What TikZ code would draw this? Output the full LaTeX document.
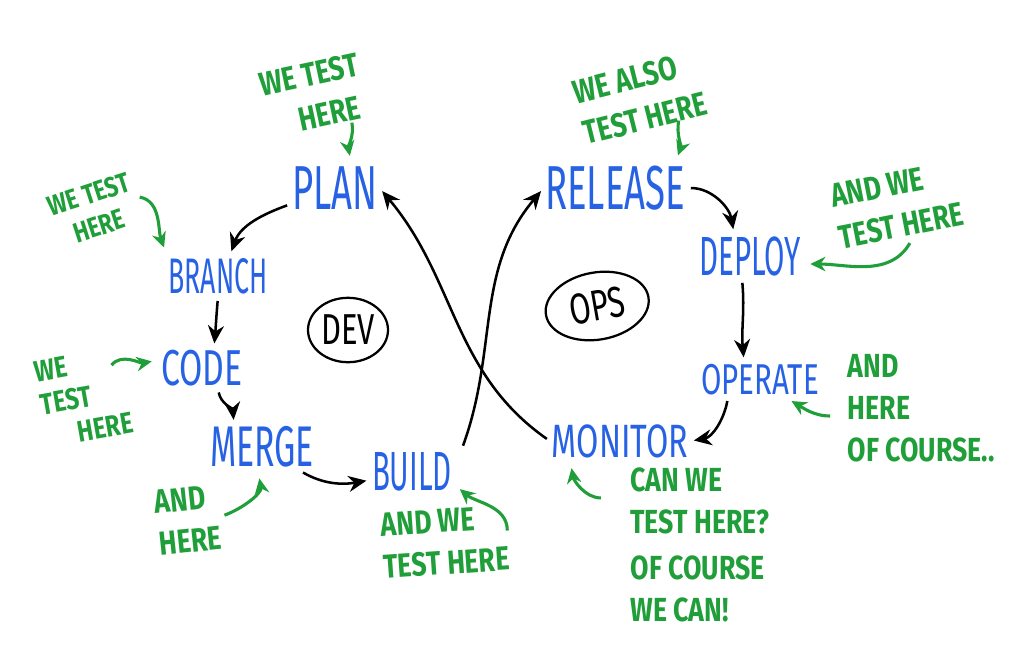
\documentclass[tikz,border=0pt]{standalone}
\usepackage{fontspec}
\setmainfont{Fira Sans}
\usetikzlibrary{positioning,shapes.geometric,arrows.meta}
\definecolor{stageblue}{RGB}{40,98,228}
\definecolor{notegreen}{RGB}{32,158,58}

\begin{document}
\begin{tikzpicture}[
        stage/.style={text=stageblue,inner sep=1pt,yscale=1.7,transform shape,font=\fontsize{#1}{#1}\selectfont},
        stage/.default=24,
        note/.style={text=notegreen,inner sep=1pt,align=left,yscale=1.25,transform shape,font=\bfseries\fontsize{19}{24}\selectfont},
        side/.style={draw,ellipse,line width=1.6pt,inner sep=0pt,yscale=1.4,transform shape,font=\fontsize{22}{22}\selectfont},
        flow/.style={line width=1.8pt,-{Stealth[length=4.5mm,width=4mm]},shorten <=1mm,shorten >=1mm},
        hint/.style={notegreen,line width=2.2pt,-{Stealth[length=3.8mm,width=3.6mm]},shorten <=1mm,shorten >=2mm}]
        \useasboundingbox (0,0) rectangle (25.6,-16.325);

        % dev side
        \node[stage=26] (plan) at (8.38,-4.70) {PLAN};
        \node[stage=19,yscale=1.1] (branch) at (5.45,-6.90) {BRANCH};
        \node[stage=24,yscale=0.88] (code) at (5.05,-9.20) {CODE};
        \node[stage=24] (merge) at (6.55,-11.18) {MERGE};
        \node[stage=21,yscale=1.1] (build) at (10.30,-11.80) {BUILD};
        \node[side,minimum width=2cm,minimum height=1.15cm] (dev) at (8.7,-8.25) {DEV};

        % ops side
        \node[stage=26] (release) at (15.38,-4.70) {RELEASE};
        \node[stage=21,yscale=1.1] (deploy) at (18.75,-6.40) {DEPLOY};
        \node[stage=21,yscale=0.86] (operate) at (19.00,-9.48) {OPERATE};
        \node[stage=23,yscale=0.85] (monitor) at (15.50,-11.03) {MONITOR};
        \node[rotate=10,side,minimum width=2.6cm,minimum height=1.2cm] (ops) at (14.93,-7.65) {OPS};

        % notes
        \node[rotate=12,note,align=center] (n1) at (7.83,-2.38) {WE TEST\\\hspace*{6mm}HERE};
        \node[rotate=18,note,font=\bfseries\fontsize{16}{19}\selectfont] (n2) at (2.35,-5.25) {WE TEST\\\hspace*{4mm}HERE};
        \node[rotate=10,note,font=\bfseries\fontsize{17}{19}\selectfont] (n3) at (2.10,-9.93) {WE\\TEST\\\hspace*{8mm}HERE};
        \node[rotate=6,note] (n4) at (4.70,-13.0) {AND\\HERE};
        \node[rotate=4,note] (n5) at (11.13,-13.55) {AND WE\\TEST HERE};
        \node[rotate=14,note] (n6) at (16.0,-2.45) {WE ALSO\\TEST HERE};
        \node[rotate=11,note] (n7) at (22.43,-5.13) {AND WE\\TEST HERE};
        \node[note] (n8) at (23.03,-10.2) {AND\\HERE\\OF COURSE..};
        \node[note] (n9) at (17.5,-13.63) {CAN WE\\TEST HERE?\\[2pt]OF COURSE\\WE CAN!};

        \draw[flow] ([yshift=-4mm]plan.west) to[out=200,in=70] ([xshift=3mm]branch.north);
        \draw[flow] (branch.south) to[out=-95,in=85] ([xshift=3mm]code.north);
        \draw[flow] ([xshift=4mm]code.south) to[out=-80,in=95] ([xshift=-7mm]merge.north);
        \draw[flow] ([xshift=-4mm]merge.south east) to[out=-30,in=190] ([yshift=-2mm]build.west);
        \draw[flow] ([xshift=2mm]build.north east) to[out=70,in=230] (release.west);
        \draw[flow] (release.east) to[out=0,in=100] ([xshift=-4mm]deploy.north);
        \draw[flow] ([xshift=-2mm]deploy.south) to[out=-85,in=95] ([xshift=-4mm]operate.north);
        \draw[flow] ([xshift=-8mm]operate.south) to[out=-100,in=10] (monitor.east);
        \draw[flow] (monitor.west) to[out=145,in=-50] (plan.east);

        \draw[hint] ([xshift=-5mm]n1.south east) to[out=-80,in=100] ([xshift=4mm]plan.north);
        \draw[hint] (n2.east) to[out=-10,in=110] (branch.north west);
        \draw[hint] ([xshift=-3mm,yshift=-6mm]n3.north east) to[out=50,in=190] ([yshift=2mm]code.west);
        \draw[hint] (n4.east) to[out=20,in=-80] ([xshift=-1mm]merge.south);
        \draw[hint] ([yshift=-8mm]n5.north east) to[out=90,in=-40] ([yshift=-3mm]build.east);
        \draw[hint] ([xshift=-8mm]n6.south east) to[out=-100,in=70] ([xshift=15mm]release.north);
        \draw[hint] ([xshift=2mm]n7.south) to[out=-120,in=0] ([yshift=-2mm]deploy.east);
        \draw[hint] ([xshift=-3mm,yshift=-2mm]n8.west) to[out=180,in=-30] ([xshift=-9mm]operate.south east);
        \draw[hint] ([xshift=-6mm,yshift=-8mm]n9.north west) to[out=180,in=-80] ([xshift=5mm]monitor.south west);
\end{tikzpicture}
\end{document}
